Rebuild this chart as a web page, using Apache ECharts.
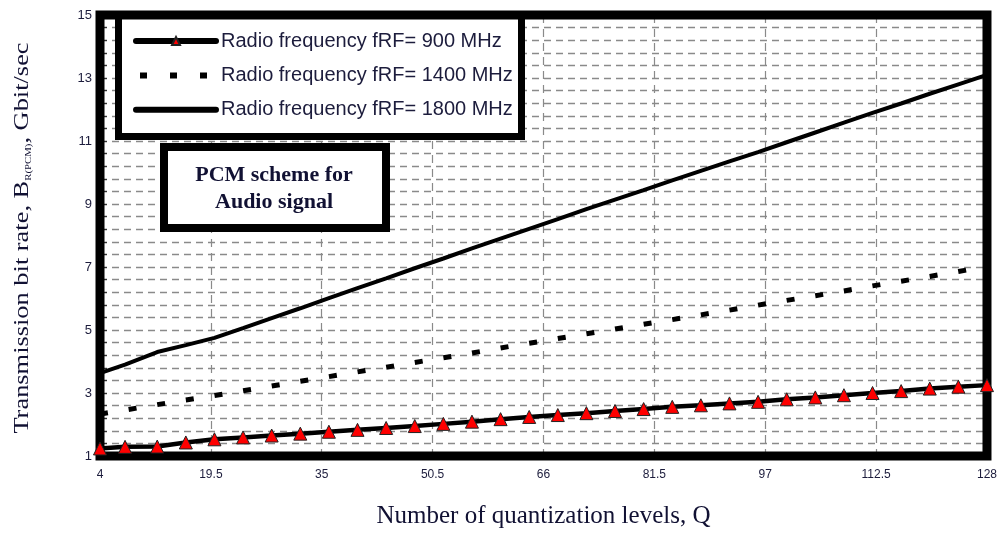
<!DOCTYPE html>
<html>
<head>
<meta charset="utf-8">
<title>PCM scheme - transmission bit rate</title>
<script src="https://cdn.jsdelivr.net/npm/echarts@6/dist/echarts.min.js"></script>
<style>
  html, body { margin: 0; padding: 0; background: #fff; }
  #chart { width: 1000px; height: 534px; }
</style>
</head>
<body>
<div id="chart"></div>
<script>
// number of quantization levels Q
var qLevels = [4, 7.5, 12, 16, 20, 24, 28, 32, 36, 40, 44, 48, 52, 56, 60, 64, 68, 72, 76, 80, 84, 88, 92, 96, 100, 104, 108, 112, 116, 120, 124, 128];
// transmission bit rate, Gbit/sec
var rate900 = [1.24, 1.29, 1.30, 1.43, 1.53, 1.59, 1.65, 1.71, 1.77, 1.83, 1.89, 1.95, 2.02, 2.09, 2.17, 2.24, 2.30, 2.36, 2.43, 2.49, 2.56, 2.61, 2.67, 2.72, 2.80, 2.86, 2.93, 3.00, 3.06, 3.14, 3.20, 3.25];
var rate1400 = [2.33, 2.46, 2.63, 2.78, 2.92, 3.07, 3.22, 3.37, 3.52, 3.67, 3.82, 3.97, 4.12, 4.27, 4.43, 4.58, 4.73, 4.88, 5.03, 5.18, 5.33, 5.48, 5.63, 5.79, 5.94, 6.09, 6.24, 6.40, 6.55, 6.70, 6.86, 7.01];
var rate1800 = [3.63, 3.90, 4.30, 4.52, 4.75, 5.06, 5.38, 5.69, 6.01, 6.33, 6.64, 6.96, 7.27, 7.59, 7.90, 8.21, 8.52, 8.84, 9.14, 9.44, 9.75, 10.05, 10.35, 10.65, 10.96, 11.27, 11.58, 11.89, 12.19, 12.50, 12.80, 13.10];
var seriesNames = ['Radio frequency fRF= 900 MHz', 'Radio frequency fRF= 1400 MHz', 'Radio frequency fRF= 1800 MHz'];
var xTickValues = [4, 19.5, 35, 50.5, 66, 81.5, 97, 112.5, 128];

function pairs(ys) {
  return qLevels.map(function (q, i) { return [q, ys[i]]; });
}

var chart = echarts.init(document.getElementById('chart'));
var labelColor = '#1c1c3c';
var gridDash = { type: [7, 5], color: '#8a8a8a', width: 1.4 };

var option = {
  animation: false,
  backgroundColor: '#fff',
  grid: {
    left: 100, right: 10, top: 15, bottom: 78,
    show: true, borderColor: '#000', borderWidth: 9, backgroundColor: 'transparent', z: 3
  },
  legend: {
    left: 133, top: 30, orient: 'vertical', padding: 0,
    itemWidth: 80, itemHeight: 10, itemGap: 12.4,
    data: [
      { name: seriesNames[0], lineStyle: { width: 6, cap: 'round' } },
      { name: seriesNames[1], itemStyle: { opacity: 0 }, lineStyle: { width: 6, cap: 'butt', type: [7, 23], dashOffset: -4 } },
      { name: seriesNames[2], itemStyle: { opacity: 0 }, lineStyle: { width: 6, cap: 'round' } }
    ],
    textStyle: { fontFamily: 'Liberation Sans, Arial', fontSize: 20, color: labelColor, lineHeight: 22 },
    z: 6
  },
  xAxis: {
    type: 'value', min: 4, max: 128, interval: 15.5,
    name: 'Number of quantization levels, Q',
    nameLocation: 'middle', nameGap: 48,
    nameTextStyle: { fontFamily: 'Liberation Serif, Times New Roman', fontSize: 25, color: '#111133' },
    axisLine: { show: false },
    axisTick: { show: false },
    axisLabel: {
      customValues: xTickValues,
      fontFamily: 'Liberation Sans, Arial', fontSize: 12, color: labelColor, margin: 13,
      formatter: function (v) { return String(v); }
    },
    splitLine: { show: true, lineStyle: { type: [8, 6], color: '#8a8a8a', width: 1.2 } }
  },
  yAxis: {
    type: 'value', min: 1, max: 15, interval: 2,
    axisLine: { show: false },
    axisTick: { show: true, inside: true, length: 7, lineStyle: { color: '#333', width: 1.2 } },
    minorTick: { show: true, splitNumber: 5, length: 7, lineStyle: { color: '#333', width: 1.2 } },
    axisLabel: { fontFamily: 'Liberation Sans, Arial', fontSize: 13, color: labelColor, margin: 8 },
    splitLine: { show: true, lineStyle: gridDash },
    minorSplitLine: { show: true, lineStyle: gridDash }
  },
  graphic: [
    {
      type: 'rect', z: 5,
      shape: { x: 118.5, y: 16, width: 403, height: 120.5 },
      style: { fill: '#fff', stroke: '#000', lineWidth: 7 }
    },
    {
      type: 'rect', z: 5,
      shape: { x: 164, y: 147, width: 222, height: 81 },
      style: { fill: '#fff', stroke: '#000', lineWidth: 8 }
    },
    {
      type: 'text', z: 6, x: 274, y: 189,
      style: {
        text: 'PCM scheme for\nAudio signal',
        font: 'bold 22px "Liberation Serif", "Times New Roman", serif',
        fill: '#111133', align: 'center', verticalAlign: 'middle', lineHeight: 27
      }
    },
    {
      // y axis title, stretched along its reading direction like the original
      type: 'text', z: 6, x: 22, y: 238, rotation: Math.PI / 2, scaleX: 1.2,
      style: {
        text: '{m|Transmission bit rate, B}{s|R(PCM)}{m|, Gbit/sec}',
        align: 'center', verticalAlign: 'middle',
        fill: '#111133',
        rich: {
          m: { fontFamily: 'Liberation Serif, Times New Roman', fontSize: 22, lineHeight: 22, verticalAlign: 'top', color: '#111133' },
          s: { fontFamily: 'Liberation Serif, Times New Roman', fontSize: 9, lineHeight: 9, padding: [14, 0, 0, 0], verticalAlign: 'bottom', color: '#111133' }
        }
      }
    }
  ],
  series: [
    {
      name: seriesNames[0], type: 'line', data: pairs(rate900),
      symbol: 'triangle', symbolSize: 13,
      itemStyle: { color: '#ff0000', borderColor: '#222', borderWidth: 1 },
      lineStyle: { color: '#000', width: 4.5 },
      z: 4
    },
    {
      name: seriesNames[1], type: 'line', data: pairs(rate1400),
      symbol: 'none', showSymbol: false,
      itemStyle: { color: '#000' },
      lineStyle: { color: '#000', width: 5, type: [8, 21] },
      z: 4
    },
    {
      name: seriesNames[2], type: 'line', data: pairs(rate1800),
      symbol: 'none', showSymbol: false,
      itemStyle: { color: '#000' },
      lineStyle: { color: '#000', width: 4 },
      z: 4
    }
  ]
};

chart.setOption(option);
</script>
</body>
</html>
